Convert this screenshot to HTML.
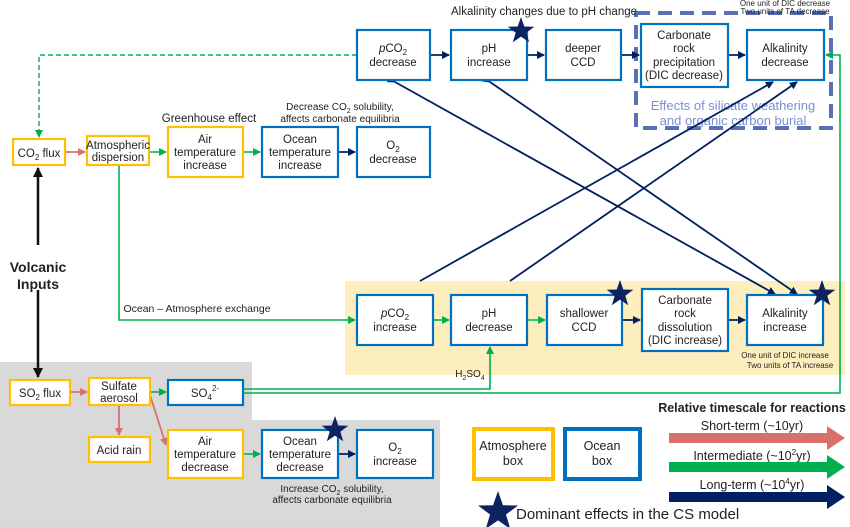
<!DOCTYPE html>
<html><head><meta charset="utf-8"><style>
body{margin:0;background:#fff}
svg{display:block;font-family:"Liberation Sans",sans-serif}
.o{fill:#fff;stroke:#0070c0;stroke-width:2.2}
.a{fill:#fff;stroke:#ffc000;stroke-width:2.2}
text{font-size:11.5px;fill:#222;text-anchor:middle}
.s{font-size:10px}
</style></head><body>
<svg width="850" height="527" viewBox="0 0 850 527">
<defs>
<marker id="n" markerWidth="8" markerHeight="8" refX="7" refY="4" orient="auto" markerUnits="userSpaceOnUse"><path d="M0,0L8,4L0,8z" fill="#002060"/></marker>
<marker id="g" markerWidth="8" markerHeight="8" refX="7" refY="4" orient="auto" markerUnits="userSpaceOnUse"><path d="M0,0L8,4L0,8z" fill="#00b050"/></marker>
<marker id="r" markerWidth="8" markerHeight="8" refX="7" refY="4" orient="auto" markerUnits="userSpaceOnUse"><path d="M0,0L8,4L0,8z" fill="#d9706c"/></marker>
<marker id="k" markerWidth="10" markerHeight="10" refX="9" refY="5" orient="auto" markerUnits="userSpaceOnUse"><path d="M0,0L10,5L0,10z" fill="#111"/></marker>
<path id="st" d="M0,-14L3.3,-4.5L13.3,-4.3L5.3,1.7L8.2,11.3L0,5.6L-8.2,11.3L-5.3,1.7L-13.3,-4.3L-3.3,-4.5z" fill="#0d2260"/>
</defs>
<!-- backgrounds -->
<rect x="345" y="281" width="500" height="94" fill="#fdeebe"/>
<path d="M0,362H252V420H440V527H0z" fill="#d9d9d9"/>
<rect x="636" y="13" width="195" height="115" fill="none" stroke="#5b6fb5" stroke-width="4" stroke-dasharray="14,8"/>
<text x="733" y="110" style="font-size:13px;fill:#7b8fd0">Effects of silicate weathering</text>
<text x="733" y="125" style="font-size:13px;fill:#7b8fd0">and organic carbon burial</text>
<!-- green lines -->
<path d="M357,55H39V137" fill="none" stroke="#00b050" stroke-width="1.4" stroke-dasharray="5,3" marker-end="url(#g)"/>
<path d="M119,165V320H355" fill="none" stroke="#00b050" stroke-width="1.6" marker-end="url(#g)"/>
<path d="M243,393H840V55H826" fill="none" stroke="#00b050" stroke-width="1.6" marker-end="url(#g)"/>
<path d="M243,389H490V347" fill="none" stroke="#00b050" stroke-width="1.6" marker-end="url(#g)"/>
<g stroke="#00b050" stroke-width="1.6" marker-end="url(#g)">
<line x1="149" y1="152" x2="166" y2="152"/><line x1="243" y1="152" x2="260" y2="152"/>
<line x1="433" y1="320" x2="449" y2="320"/><line x1="527" y1="320" x2="545" y2="320"/>
<line x1="150" y1="392" x2="166" y2="392"/><line x1="243" y1="454" x2="260" y2="454"/>
</g>
<g stroke="#002060" stroke-width="1.8" marker-end="url(#n)" fill="none">
<line x1="338" y1="152" x2="355" y2="152"/><line x1="338" y1="454" x2="355" y2="454"/>
<line x1="430" y1="55" x2="449" y2="55"/><line x1="527" y1="55" x2="544" y2="55"/>
<line x1="621" y1="55" x2="639" y2="55"/><line x1="728" y1="55" x2="745" y2="55"/>
<line x1="622" y1="320" x2="640" y2="320"/><line x1="728" y1="320" x2="745" y2="320"/>
<line x1="420" y1="281" x2="773" y2="82"/><line x1="510" y1="281" x2="797" y2="82"/>
<line x1="395" y1="82" x2="775" y2="294" marker-start="url(#n)"/>
<line x1="490" y1="82" x2="797" y2="294" marker-start="url(#n)"/>
</g>
<g stroke="#d9706c" stroke-width="1.8" marker-end="url(#r)">
<line x1="65" y1="152" x2="85" y2="152"/><line x1="70" y1="392" x2="87" y2="392"/>
<line x1="119" y1="405" x2="119" y2="435"/><line x1="150" y1="395" x2="166" y2="445"/>
</g>
<g stroke="#111" stroke-width="2.5" marker-end="url(#k)">
<line x1="38" y1="245" x2="38" y2="168"/><line x1="38" y1="290" x2="38" y2="377"/>
</g>
<text x="38" y="272" style="font-size:14px;font-weight:bold">Volcanic</text>
<text x="38" y="289" style="font-size:14px;font-weight:bold">Inputs</text>
<!-- boxes -->
<rect class="o" x="357" y="30" width="73" height="50"/><text x="393" y="52"><tspan font-style="italic">p</tspan>CO<tspan dy="3" font-size="8">2</tspan></text><text x="393" y="66">decrease</text>
<rect class="o" x="451" y="30" width="76" height="50"/><text x="489" y="52">pH</text><text x="489" y="66">increase</text>
<rect class="o" x="546" y="30" width="75" height="50"/><text x="583" y="52">deeper</text><text x="583" y="66">CCD</text>
<rect class="o" x="641" y="24" width="87" height="63"/><text x="684" y="39">Carbonate</text><text x="684" y="52">rock</text><text x="684" y="66">precipitation</text><text x="684" y="79">(DIC decrease)</text>
<rect class="o" x="747" y="30" width="77" height="50"/><text x="785" y="52">Alkalinity</text><text x="785" y="66">decrease</text>
<text x="544" y="15">Alkalinity changes due to pH change</text>
<text x="785" y="6" class="s" style="font-size:8px">One unit of DIC decrease</text>
<text x="785" y="14" class="s" style="font-size:8px">Two units of TA decrease</text>
<use href="#st" x="521" y="31"/>
<rect class="a" x="13" y="139" width="52" height="26"/><text x="39" y="157">CO<tspan dy="3" font-size="8">2</tspan><tspan dy="-3"> flux</tspan></text>
<rect class="a" x="87" y="136" width="62" height="29"/><text x="118" y="149">Atmospheric</text><text x="118" y="161">dispersion</text>
<rect class="a" x="168" y="127" width="75" height="50"/><text x="205" y="143">Air</text><text x="205" y="156">temperature</text><text x="205" y="169">increase</text>
<rect class="o" x="262" y="127" width="76" height="50"/><text x="300" y="143">Ocean</text><text x="300" y="156">temperature</text><text x="300" y="169">increase</text>
<rect class="o" x="357" y="127" width="73" height="50"/><text x="393" y="149">O<tspan dy="3" font-size="8">2</tspan></text><text x="393" y="163">decrease</text>
<text x="209" y="122">Greenhouse effect</text>
<text x="340" y="110" class="s">Decrease CO<tspan dy="3" font-size="7">2</tspan><tspan dy="-3"> solubility,</tspan></text>
<text x="340" y="122" class="s">affects carbonate equilibria</text>
<text x="197" y="312" class="s" style="font-size:10.5px">Ocean – Atmosphere exchange</text>
<rect class="o" x="357" y="295" width="76" height="50"/><text x="395" y="317"><tspan font-style="italic">p</tspan>CO<tspan dy="3" font-size="8">2</tspan></text><text x="395" y="331">increase</text>
<rect class="o" x="451" y="295" width="76" height="50"/><text x="489" y="317">pH</text><text x="489" y="331">decrease</text>
<rect class="o" x="547" y="295" width="75" height="50"/><text x="584" y="317">shallower</text><text x="584" y="331">CCD</text>
<rect class="o" x="642" y="289" width="86" height="62"/><text x="685" y="304">Carbonate</text><text x="685" y="317">rock</text><text x="685" y="331">dissolution</text><text x="685" y="344">(DIC increase)</text>
<rect class="o" x="747" y="295" width="76" height="50"/><text x="785" y="317">Alkalinity</text><text x="785" y="331">increase</text>
<use href="#st" x="620" y="294"/><use href="#st" x="822" y="294"/>
<text x="785" y="358" style="font-size:8px">One unit of DIC increase</text>
<text x="790" y="368" style="font-size:8px">Two units of TA increase</text>
<text x="470" y="377" class="s">H<tspan dy="3" font-size="7">2</tspan><tspan dy="-3">SO</tspan><tspan dy="3" font-size="7">4</tspan></text>
<rect class="a" x="10" y="380" width="60" height="25"/><text x="40" y="397">SO<tspan dy="3" font-size="8">2</tspan><tspan dy="-3"> flux</tspan></text>
<rect class="a" x="89" y="378" width="61" height="27"/><text x="119" y="390">Sulfate</text><text x="119" y="402">aerosol</text>
<rect class="o" x="168" y="380" width="75" height="25"/><text x="205" y="397">SO<tspan dy="3" font-size="8">4</tspan><tspan dy="-9" font-size="8">2-</tspan></text>
<rect class="a" x="89" y="437" width="61" height="25"/><text x="119" y="454">Acid rain</text>
<rect class="a" x="168" y="430" width="75" height="48"/><text x="205" y="445">Air</text><text x="205" y="458">temperature</text><text x="205" y="471">decrease</text>
<rect class="o" x="262" y="430" width="76" height="48"/><text x="300" y="445">Ocean</text><text x="300" y="458">temperature</text><text x="300" y="471">decrease</text>
<rect class="o" x="357" y="430" width="76" height="48"/><text x="395" y="451">O<tspan dy="3" font-size="8">2</tspan></text><text x="395" y="465">increase</text>
<use href="#st" x="335" y="430"/>
<text x="332" y="492" class="s">Increase CO<tspan dy="3" font-size="7">2</tspan><tspan dy="-3"> solubility,</tspan></text>
<text x="332" y="503" class="s">affects carbonate equilibria</text>
<!-- legend -->
<rect x="474" y="429" width="79" height="50" fill="#fff" stroke="#ffc000" stroke-width="4"/>
<text x="513" y="450" style="font-size:12.5px">Atmosphere</text><text x="513" y="465" style="font-size:12.5px">box</text>
<rect x="565" y="429" width="75" height="50" fill="#fff" stroke="#0070c0" stroke-width="4"/>
<text x="602" y="450" style="font-size:12.5px">Ocean</text><text x="602" y="465" style="font-size:12.5px">box</text>
<text x="752" y="412" style="font-size:12.5px;font-weight:bold">Relative timescale for reactions</text>
<text x="752" y="430" style="font-size:12.5px">Short-term (~10yr)</text>
<text x="752" y="460" style="font-size:12.5px">Intermediate (~10<tspan dy="-5" font-size="8">2</tspan><tspan dy="5">yr)</tspan></text>
<text x="752" y="489" style="font-size:12.5px">Long-term (~10<tspan dy="-5" font-size="8">4</tspan><tspan dy="5">yr)</tspan></text>
<path d="M669,433H827V426L845,438L827,450V443H669z" fill="#d9706c"/>
<path d="M669,462H827V455L845,467L827,479V472H669z" fill="#00b050"/>
<path d="M669,492H827V485L845,497L827,509V502H669z" fill="#002060"/>
<use href="#st" x="498" y="512" transform="translate(-249 -256) scale(1.5)"/>
<text x="516" y="519" style="font-size:15px;text-anchor:start">Dominant effects in the CS model</text>
</svg>
</body></html>
